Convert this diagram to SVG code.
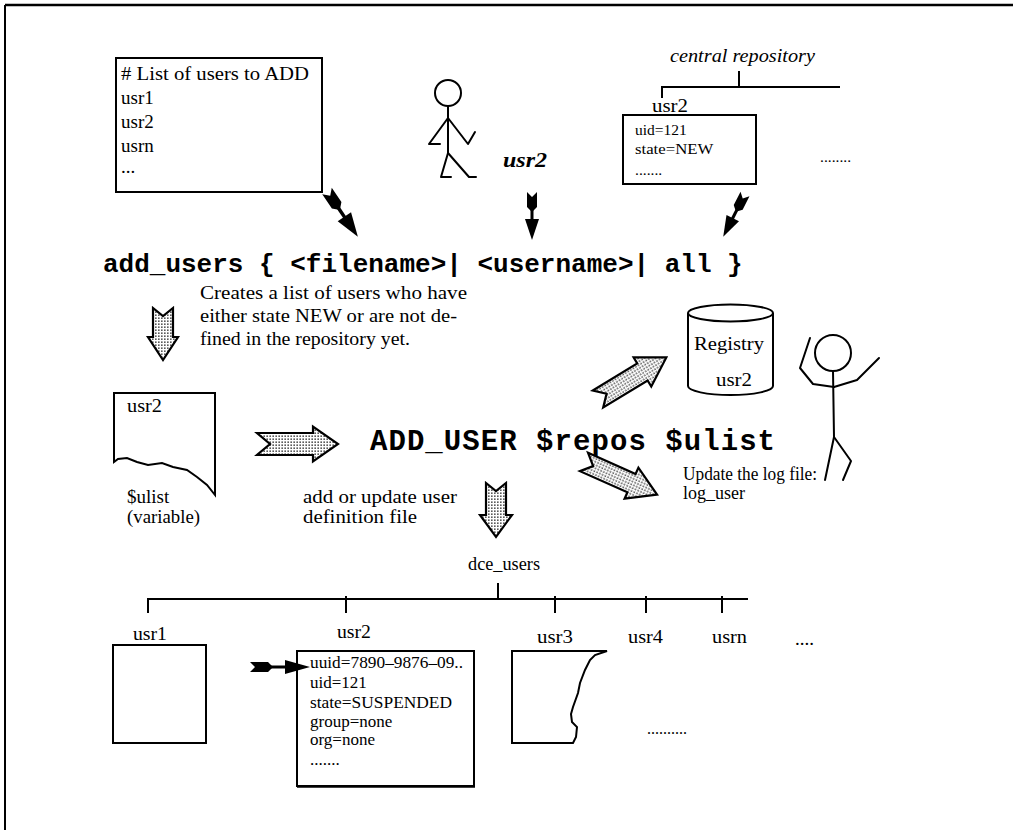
<svg xmlns="http://www.w3.org/2000/svg" width="1013" height="830" viewBox="0 0 1013 830">
  <style>
    .serif { font-family: "Liberation Serif", "Times New Roman", serif; fill: #000; }
    .mono { font-family: "Liberation Mono", "Courier New", monospace; font-weight: bold; fill: #000; }
    .line { stroke: #000; stroke-width: 2; fill: none; }
    .box { stroke: #000; stroke-width: 2; fill: #fff; }
    .figure { stroke: #000; stroke-width: 2; fill: none; stroke-linecap: round; stroke-linejoin: round; }
    .block { fill: url(#stipple); stroke: #000; stroke-width: 2.2; stroke-linejoin: miter; }
    .dart { fill: #000; stroke: none; }
  </style>
  <defs>
    <!-- grey stipple used inside the block arrows -->
    <pattern id="stipple" width="3" height="3" patternUnits="userSpaceOnUse">
      <rect width="3" height="3" fill="#fff"/>
      <rect x="0.5" y="0.5" width="1.3" height="1.3" fill="#000"/>
    </pattern>
    <!-- feathered black arrow pointing along +x, 48 units long -->
    <g id="dart">
      <path class="dart" d="M0,-5 L15,-5 L20,0 L15,5 L0,5 L5,0 Z"/>
      <rect class="dart" x="18" y="-1.5" width="12" height="3"/>
      <path class="dart" d="M27,-7 L48,0 L27,7 Z"/>
    </g>
  </defs>

  <rect width="1013" height="830" fill="#fff"/>

  <!-- frame -->
  <g id="frame">
    <line x1="5" y1="5" x2="1013" y2="5" stroke="#000" stroke-width="2.5"/>
    <line x1="5" y1="5" x2="5" y2="830" stroke="#000" stroke-width="2"/>
  </g>

  <!-- file with the list of users -->
  <g id="user-list-file">
    <rect class="box" x="116" y="58" width="206" height="134"/>
    <text class="serif" font-size="19">
      <tspan x="121" y="80" textLength="188" lengthAdjust="spacingAndGlyphs"># List of users to ADD</tspan>
      <tspan x="121" y="104">usr1</tspan>
      <tspan x="121" y="128">usr2</tspan>
      <tspan x="121" y="152">usrn</tspan>
      <tspan x="121" y="173">...</tspan>
    </text>
  </g>

  <!-- person entering a name -->
  <g id="walker" class="figure">
    <circle cx="448" cy="93" r="13"/>
    <path d="M448,106 L448,153"/>
    <path d="M448,118 L429,144 L440,144"/>
    <path d="M448,118 L468,144 L475,132"/>
    <path d="M448,153 L441,177 L451,177"/>
    <path d="M448,153 L469,177 L476,177"/>
  </g>

  <g id="single-user">
    <text class="serif" font-size="20" font-weight="bold" font-style="italic" x="503" y="167" textLength="44" lengthAdjust="spacingAndGlyphs">usr2</text>
  </g>

  <!-- central repository -->
  <g id="central-repository">
    <text class="serif" font-size="18" font-style="italic" x="670" y="62" textLength="145" lengthAdjust="spacingAndGlyphs">central repository</text>
    <path class="line" d="M739,71 L739,87 M662,98 L662,87 L840,87"/>
    <text class="serif" font-size="19" x="652" y="112" textLength="36" lengthAdjust="spacingAndGlyphs">usr2</text>
    <rect class="box" x="623" y="115" width="133" height="69"/>
    <text class="serif" font-size="15.5">
      <tspan x="635" y="135">uid=121</tspan>
      <tspan x="635" y="154" textLength="78" lengthAdjust="spacingAndGlyphs">state=NEW</tspan>
      <tspan x="635" y="175">.......</tspan>
    </text>
    <text class="serif" font-size="15.5" x="820" y="162">........</text>
  </g>

  <!-- the add_users command -->
  <g id="add-users-command">
    <text class="mono" font-size="26" x="103" y="272">add_users { &lt;filename&gt;| &lt;username&gt;| all }</text>
  </g>

  <g id="selection-note">
    <text class="serif" font-size="19">
      <tspan x="200" y="299" textLength="267" lengthAdjust="spacingAndGlyphs">Creates a list of users who have</tspan>
      <tspan x="200" y="322" textLength="257" lengthAdjust="spacingAndGlyphs">either state NEW or are not de-</tspan>
      <tspan x="200" y="345" textLength="210" lengthAdjust="spacingAndGlyphs">fined in the repository yet.</tspan>
    </text>
  </g>

  <!-- $ulist variable -->
  <g id="ulist-variable">
    <path class="box" d="M114,393 L215,393 L215,495 L207,485 L197,477 L187,470 L173,467 L162,463 L148,465 L137,462 L127,458 L118,459 L114,462 Z"/>
    <text class="serif" font-size="19" x="127" y="412" textLength="35" lengthAdjust="spacingAndGlyphs">usr2</text>
    <text class="serif" font-size="19">
      <tspan x="127" y="503">$ulist</tspan>
      <tspan x="127" y="523" textLength="73" lengthAdjust="spacingAndGlyphs">(variable)</tspan>
    </text>
  </g>

  <g id="add-user-command">
    <text class="mono" font-size="29" x="370" y="450" textLength="405">ADD_USER $repos $ulist</text>
  </g>

  <!-- DCE registry -->
  <g id="registry">
    <path class="box" d="M688,313 L688,386 A42.5,9 0 0 0 773,386 L773,313"/>
    <ellipse class="box" cx="730.5" cy="313" rx="42.5" ry="8.5"/>
    <text class="serif" font-size="19" x="729" y="350" text-anchor="middle" textLength="70" lengthAdjust="spacingAndGlyphs">Registry</text>
    <text class="serif" font-size="19" x="734" y="386" text-anchor="middle" textLength="36" lengthAdjust="spacingAndGlyphs">usr2</text>
  </g>

  <!-- cheering person -->
  <g id="cheering-figure" class="figure">
    <circle cx="833" cy="353" r="18"/>
    <path d="M833,371 L834,437"/>
    <path d="M834,387 L813,384 L800,368 L810,338"/>
    <path d="M834,387 L857,380 L879,358"/>
    <path d="M834,437 L825,480"/>
    <path d="M834,437 L851,461 L843,480"/>
  </g>

  <g id="log-note">
    <text class="serif" font-size="18">
      <tspan x="683" y="480" textLength="134" lengthAdjust="spacingAndGlyphs">Update the log file:</tspan>
      <tspan x="683" y="499">log_user</tspan>
    </text>
  </g>

  <g id="definition-note">
    <text class="serif" font-size="19">
      <tspan x="303" y="503" textLength="154" lengthAdjust="spacingAndGlyphs">add or update user</tspan>
      <tspan x="303" y="523" textLength="114" lengthAdjust="spacingAndGlyphs">definition file</tspan>
    </text>
  </g>

  <!-- dce_users directory -->
  <g id="dce-users" class="serif" font-size="19">
    <text x="468" y="570" textLength="72" lengthAdjust="spacingAndGlyphs">dce_users</text>
    <text x="133" y="640" textLength="34" lengthAdjust="spacingAndGlyphs">usr1</text>
    <text x="337" y="638" textLength="34" lengthAdjust="spacingAndGlyphs">usr2</text>
    <text x="537" y="643" textLength="36" lengthAdjust="spacingAndGlyphs">usr3</text>
    <text x="628" y="643" textLength="35" lengthAdjust="spacingAndGlyphs">usr4</text>
    <text x="712" y="643" textLength="35" lengthAdjust="spacingAndGlyphs">usrn</text>
    <text x="795" y="645">....</text>
  </g>

  <g id="usr1-file">
    <rect class="box" x="113" y="645" width="93" height="98"/>
  </g>

  <g id="usr2-file">
    <rect class="box" x="297" y="651" width="177" height="135"/>
    <line x1="297" y1="787" x2="475" y2="787" stroke="#000" stroke-width="1.5"/>
    <text class="serif" font-size="17">
      <tspan x="310" y="668" textLength="153" lengthAdjust="spacingAndGlyphs">uuid=7890–9876–09..</tspan>
      <tspan x="310" y="688">uid=121</tspan>
      <tspan x="310" y="708" textLength="142" lengthAdjust="spacingAndGlyphs">state=SUSPENDED</tspan>
      <tspan x="310" y="727">group=none</tspan>
      <tspan x="310" y="745">org=none</tspan>
      <tspan x="310" y="765">.......</tspan>
    </text>
  </g>

  <g id="usr3-file">
    <path class="line" d="M512,651 L607,651 L595,655 L590,660 L585,670 L580,683 L578,693 L573,707 L571,714 L572,722 L577,727 L576,737 L573,743 L512,743 Z"/>
  </g>

  <g id="more-files">
    <text class="serif" font-size="16" x="647" y="734">..........</text>
  </g>

  <!-- connectors -->
  <g id="connectors">
    <!-- dce_users tree -->
    <path class="line" d="M498,583 L498,599 M148,613 L148,599 L748,599 M346,596 L346,613 M555,596 L555,613 M646,596 L646,613 M722,596 L722,613"/>

    <!-- inputs into add_users -->
    <use href="#dart" transform="translate(327,191) rotate(56) scale(1.15)"/>
    <use href="#dart" transform="translate(532,192) rotate(90)"/>
    <use href="#dart" transform="translate(745,194) rotate(117)"/>

    <!-- pointer to the new record -->
    <g transform="translate(250,667)">
      <path class="dart" d="M0,-5 L18,-5 L23,0 L18,5 L0,5 L5,0 Z"/>
      <rect class="dart" x="21" y="-1.5" width="16" height="3"/>
      <path class="dart" d="M35,-7 L60,0 L35,7 Z"/>
    </g>

    <!-- stippled flow arrows: M0,-w Lx,-w Lx,-h LL,0 Lx,h Lx,w L0,w Ln,0 Z -->
    <path class="block" transform="translate(163,308) rotate(90)" d="M0,-10 L29,-10 L29,-15 L52,0 L29,15 L29,10 L0,10 L8,0 Z"/>
    <path class="block" transform="translate(257,444)" d="M0,-11 L56,-11 L56,-17.5 L81,0 L56,17.5 L56,11 L0,11 L13,0 Z"/>
    <path class="block" transform="translate(496,483) rotate(90)" d="M0,-10 L32,-10 L32,-16 L54,0 L32,16 L32,10 L0,10 L8,0 Z"/>
    <path class="block" transform="translate(598,399) rotate(-31.3)" d="M0,-10 L52,-10 L52,-17 L80,0 L52,17 L52,10 L0,10 L10,0 Z"/>
    <path class="block" transform="translate(584,462) rotate(24)" d="M0,-10 L52,-10 L52,-17 L80,0 L52,17 L52,10 L0,10 L10,0 Z"/>
  </g>
</svg>
